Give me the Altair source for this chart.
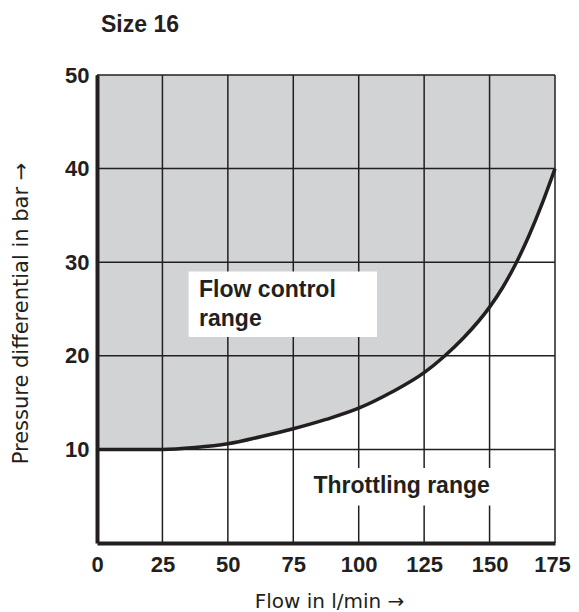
import altair as alt
import pandas as pd

# Curve: flow (l/min) vs pressure differential (bar)
flow = [0, 12.5, 25, 37.5, 50, 62.5, 75, 87.5, 100, 112.5, 125, 132.5, 140, 150, 155, 160.3, 165, 170, 175]
pressure = [10, 10, 10, 10.2, 10.6, 11.35, 12.2, 13.2, 14.4, 16.1, 18.2, 19.9, 21.9, 25.2, 27.3, 30, 32.8, 36.2, 40]

x_ticks = [0, 25, 50, 75, 100, 125, 150, 175]
y_ticks = [10, 20, 30, 40, 50]
y_top = 50

# Label boxes (data units)
box_x = [35, 80]
box_x2 = [107, 153]
box_y = [22, 4]
box_y2 = [29, 8]

# Region labels
flow_label = ["Flow control", "range"]
flow_label_x = [39]
flow_label_y = [26.3]
throttle_label = ["Throttling range"]
throttle_label_x = [116.4]
throttle_label_y = [5.35]

chart_title = ["Size 16"]

GREY = "#d1d3d4"
INK = "#231f20"
FONT = "Liberation Sans"
TFONT = "DejaVu Sans"

curve = pd.DataFrame({"flow": flow, "pressure": pressure, "top": [y_top] * len(flow)})
vgrid = pd.DataFrame({"flow": x_ticks})
hgrid = pd.DataFrame({"pressure": y_ticks})
boxes = pd.DataFrame({"x": box_x, "x2": box_x2, "y": box_y, "y2": box_y2})
lab1 = pd.DataFrame({"text": [flow_label], "x": flow_label_x, "y": flow_label_y})
lab2 = pd.DataFrame({"text": throttle_label, "x": throttle_label_x, "y": throttle_label_y})
ttl = pd.DataFrame({"text": chart_title})

xscale = alt.Scale(domain=[0, 175], nice=False, zero=True)
yscale = alt.Scale(domain=[0, 50], nice=False, zero=True)

xaxis = alt.Axis(
    values=x_ticks, title="Flow in l/min →", grid=False, ticks=False,
    domainWidth=4, domainColor=INK, labelFont=FONT, labelFontWeight="bold",
    labelFontSize=22, labelColor=INK, labelPadding=11, labelFlush=False,
    labelOffset={"condition": {"test": "datum.value == 175", "value": -3}, "value": 0},
    titleFont=TFONT, titleFontWeight="normal", titleFontSize=20, titleColor=INK,
    titleX=232, titleY=64, titleBaseline="alphabetic", titleAlign="center", zindex=2,
)
yaxis = alt.Axis(
    values=y_ticks, title="Pressure differential in bar →", grid=False, ticks=False,
    domainWidth=4, domainColor=INK, labelFont=FONT, labelFontWeight="bold",
    labelFontSize=22, labelColor=INK, labelPadding=8, labelFlush=False,
    titleFont=TFONT, titleFontWeight="normal", titleFontSize=21, titleColor=INK,
    titleX=-70, titleY=238, titleAngle=270, titleBaseline="alphabetic",
    titleAlign="center", zindex=2,
)


def X(field):
    return alt.X(field, type="quantitative", scale=xscale, axis=xaxis)


def Y(field):
    return alt.Y(field, type="quantitative", scale=yscale, axis=yaxis)


area = alt.Chart(curve).mark_area(color=GREY, interpolate="monotone").encode(
    x=X("flow"), y=Y("pressure"), y2="top"
)
vrules = alt.Chart(vgrid).mark_rule(color=INK, strokeWidth=1.5).encode(x=X("flow"))
hrules = alt.Chart(hgrid).mark_rule(color=INK, strokeWidth=1.5).encode(y=Y("pressure"))
rects = alt.Chart(boxes).mark_rect(color="white").encode(
    x=X("x"), x2="x2", y=Y("y"), y2="y2"
)
text1 = alt.Chart(lab1).mark_text(
    font=FONT, fontWeight="bold", fontSize=23, color=INK, baseline="alphabetic",
    align="left", lineHeight=29
).encode(x=X("x"), y=Y("y"), text="text")
text2 = alt.Chart(lab2).mark_text(
    font=FONT, fontWeight="bold", fontSize=23, color=INK, baseline="alphabetic",
    align="center"
).encode(x=X("x"), y=Y("y"), text="text")
line = alt.Chart(curve).mark_line(color=INK, strokeWidth=3.5, interpolate="monotone").encode(
    x=X("flow"), y=Y("pressure")
)
title = alt.Chart(ttl).mark_text(
    font=FONT, fontWeight="bold", fontSize=23, color=INK, baseline="alphabetic",
    align="left"
).encode(x=alt.value(4), y=alt.value(-43), text="text")

chart = alt.layer(area, vrules, hrules, rects, text1, text2, line, title).properties(
    width=458,
    height=468,
    autosize=alt.AutoSizeParams(type="none"),
    padding={"left": 89, "top": 67, "right": 16, "bottom": 69},
).configure_view(stroke=None)

chart.save("out.html", embed_options={"renderer": "svg", "actions": False})
